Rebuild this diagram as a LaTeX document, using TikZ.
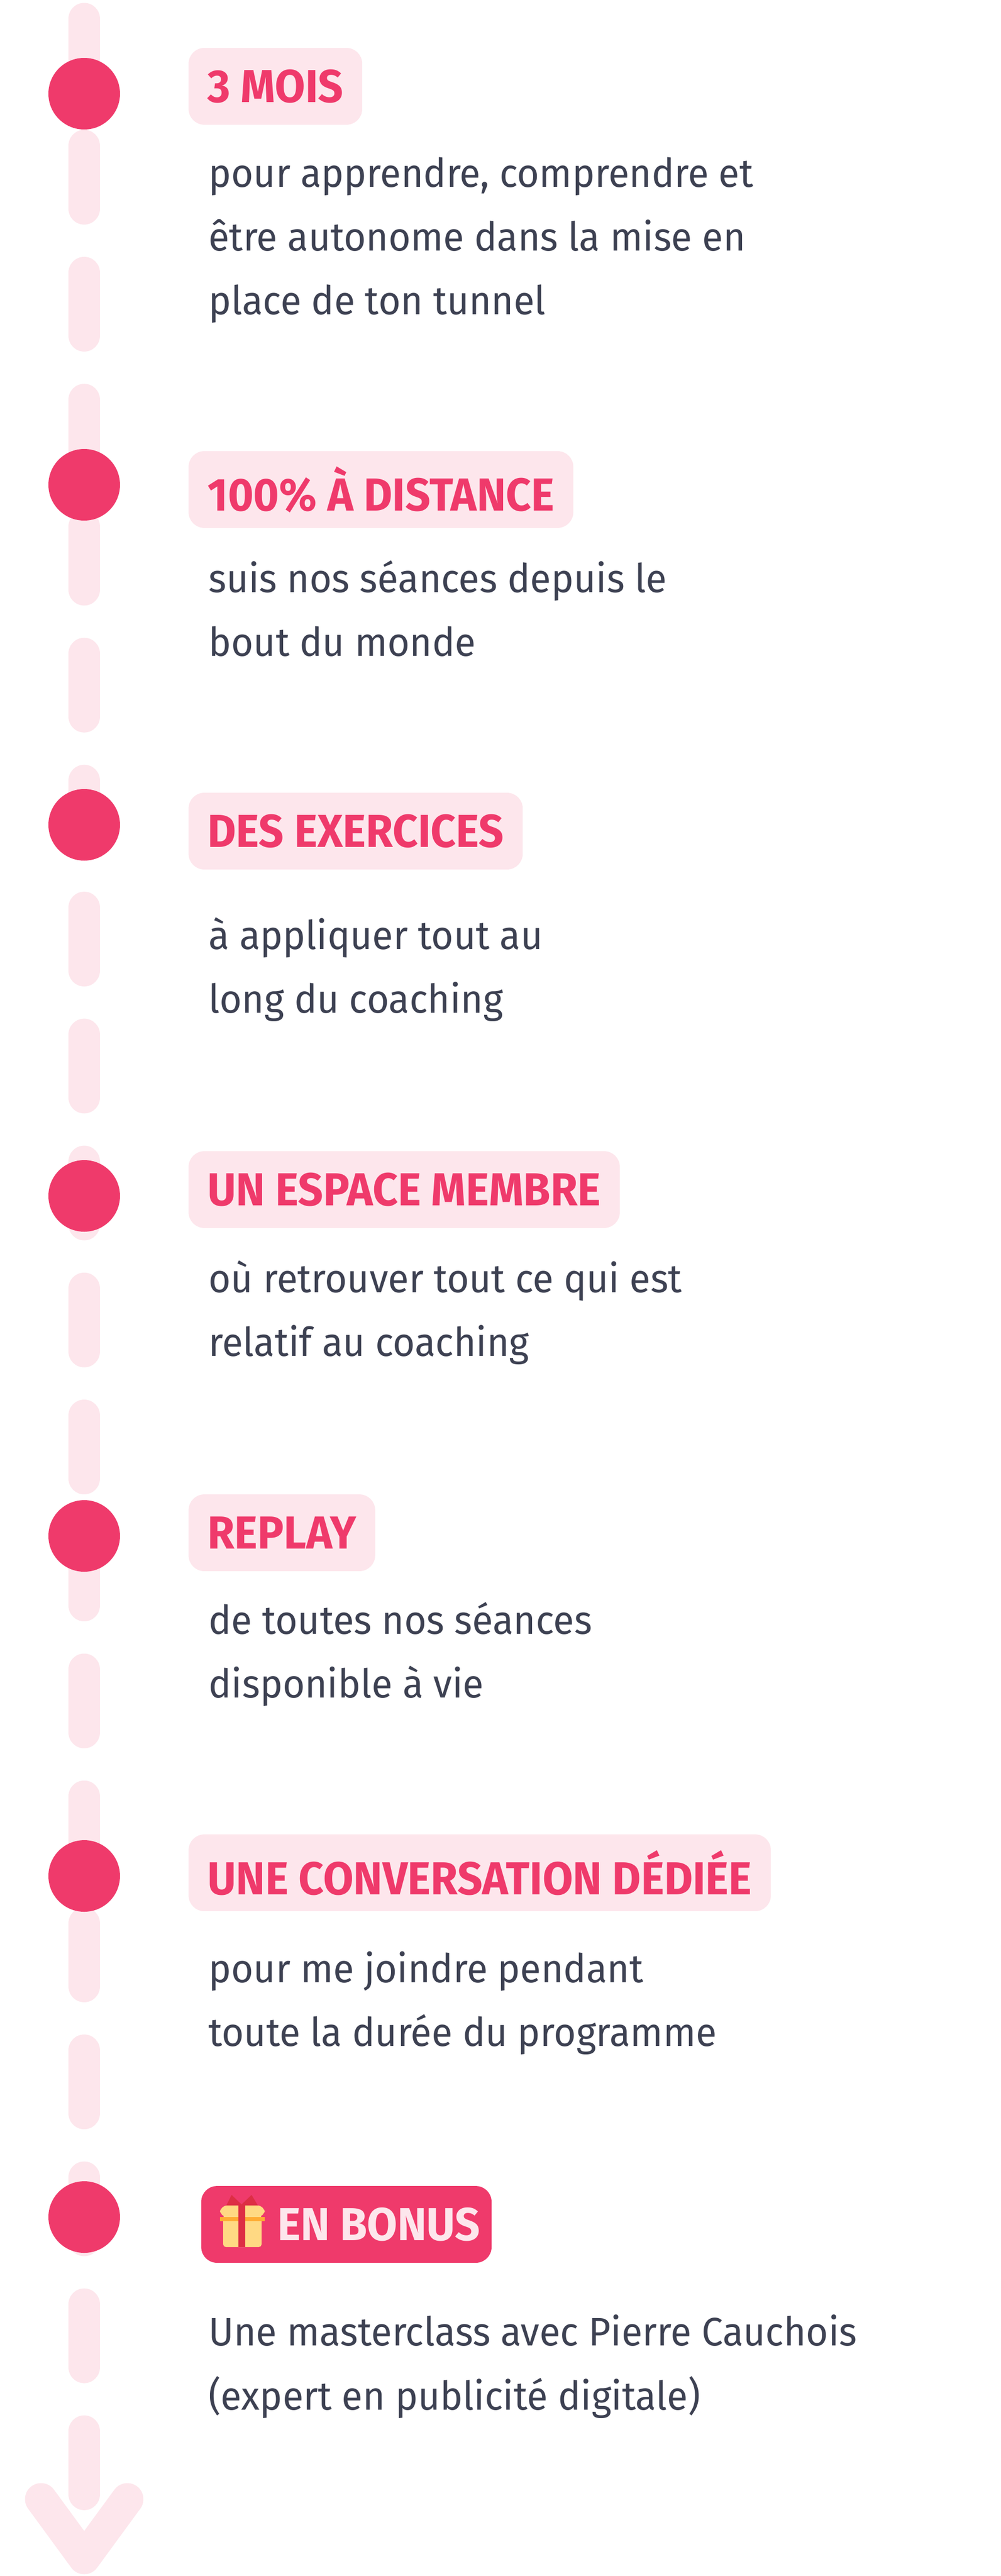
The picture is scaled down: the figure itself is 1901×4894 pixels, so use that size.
\documentclass[tikz,border=0pt]{standalone}
\usepackage{fontspec}
\setmainfont{Fira Sans}
\usepackage{graphicx}
\definecolor{pk}{HTML}{EF3A6B}
\definecolor{lpk}{HTML}{FDE6EC}
\definecolor{txt}{HTML}{3D4152}
\definecolor{gy}{HTML}{FFD983}
\definecolor{gr}{HTML}{DD2E44}
\definecolor{go}{HTML}{FFAC33}
\newcommand{\bsq}[1]{\scalebox{0.96}[1]{#1}}
\newcommand{\tsq}[1]{\scalebox{0.95}[1]{#1}}
\begin{document}
\begin{tikzpicture}[x=0.02cm,y=-0.02cm,
  tag/.style={anchor=west,fill=lpk,text=pk,rounded corners=17pt,minimum height=83pt,inner xsep=20.5pt,inner ysep=0pt,font=\fontsize{50}{60}\selectfont\bfseries},
  body/.style={anchor=base west,text=txt,inner sep=0pt,font=\fontsize{43}{69}\selectfont},
  dot/.style={circle,fill=pk,minimum size=77.4pt,inner sep=0pt},
  rail/.style={lpk,line width=34.7pt,line cap=round,line join=round}]
\useasboundingbox (0,0) rectangle (1901,4894);
\fill[white] (0,0) rectangle (1901,4894);
\coordinate (top) at (160,36);
\coordinate (bot) at (160,4740);
\coordinate (al) at (78,4748);
\coordinate (tip) at (160,4860);
\coordinate (ar) at (242,4748);
\draw[rail,dash pattern=on 67.7pt off 69.6pt] (top) -- (bot);
\draw[rail] (al) -- (tip) -- (ar);
\foreach \i/\y in {1/178,2/921,3/1567,4/2272,5/2918,6/3564,7/4212}
  \node[dot] (d\i) at (160,\y) {};
\node[tag] (t1) at (358,164) {\tsq{3 MOIS}};
\node[tag] (t2) at (358,930) {\tsq{100\% À DISTANCE}};
\node[tag] (t3) at (358,1579) {\tsq{DES EXERCICES}};
\node[tag] (t4) at (358,2260) {\tsq{UN ESPACE MEMBRE}};
\node[tag] (t5) at (358,2912) {\tsq{REPLAY}};
\node[tag] (t6) at (358,3558) {\tsq{UNE CONVERSATION DÉDIÉE}};
\node[tag,fill=pk,text=lpk,minimum width=314pt,inner xsep=0pt] (t7) at (382,4226) {};
\node[anchor=west,inner sep=0pt,text=lpk,font=\fontsize{50}{60}\selectfont\bfseries] (t7t) at (527,4226) {\tsq{EN BONUS}};
% gift icon
\fill[gy,rounded corners=3pt] (424,4208) rectangle (497,4269);
\fill[gy,rounded corners=8pt] (418,4190) rectangle (503,4212);
\fill[go] (418,4212) rectangle (503,4220);
\fill[gr] (453,4190) rectangle (466,4269);
\fill[gr] (430,4190) -- (440,4170) -- (459,4188) -- (478,4170) -- (490,4190) -- cycle;
\node[body] (b11) at (396,355) {\bsq{pour apprendre, comprendre et}};
\node[body] (b12) at (396,476) {\bsq{être autonome dans la mise en}};
\node[body] (b13) at (396,597) {\bsq{place de ton tunnel}};
\node[body] (b21) at (396,1125) {\bsq{suis nos séances depuis le}};
\node[body] (b22) at (396,1246) {\bsq{bout du monde}};
\node[body] (b31) at (396,1803) {\bsq{à appliquer tout au}};
\node[body] (b32) at (396,1924) {\bsq{long du coaching}};
\node[body] (b41) at (396,2455) {\bsq{où retrouver tout ce qui est}};
\node[body] (b42) at (396,2576) {\bsq{relatif au coaching}};
\node[body] (b51) at (396,3104) {\bsq{de toutes nos séances}};
\node[body] (b52) at (396,3225) {\bsq{disponible à vie}};
\node[body] (b61) at (396,3766) {\bsq{pour me joindre pendant}};
\node[body] (b62) at (396,3887) {\bsq{toute la durée du programme}};
\node[body] (b71) at (396,4456) {\bsq{Une masterclass avec Pierre Cauchois}};
\node[body] (b72) at (396,4578) {\bsq{(expert en publicité digitale)}};
\end{tikzpicture}
\end{document}
